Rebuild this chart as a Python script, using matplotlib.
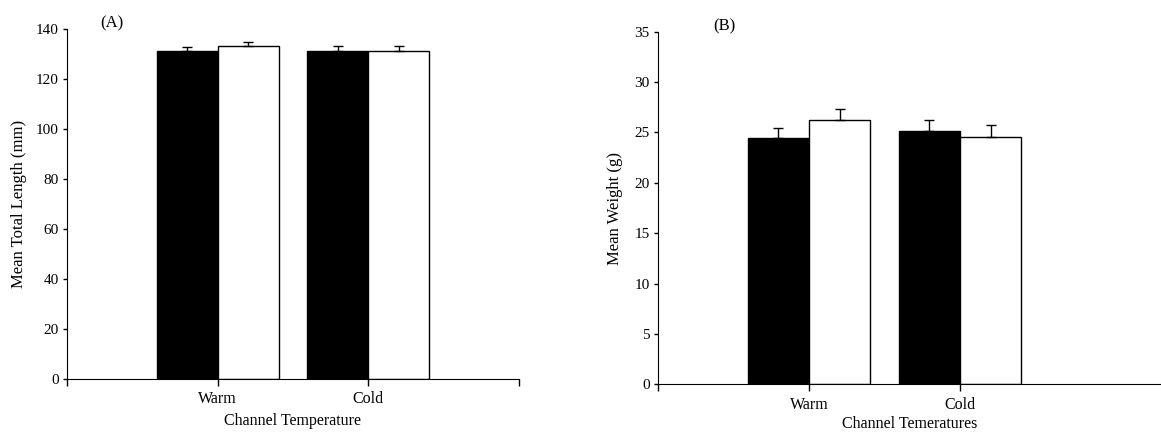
import numpy as np
import matplotlib
matplotlib.use('Agg')
import matplotlib.pyplot as plt

plt.rcParams['font.family'] = 'Liberation Serif'

# data
groups = ['Warm', 'Cold']
length_black = [131.1, 131.1]
length_white = [132.9, 131.1]
length_black_err = [1.6, 1.9]
length_white_err = [1.9, 2.0]

weight_black = [24.4, 25.1]
weight_white = [26.2, 24.5]
weight_black_err = [1.0, 1.1]
weight_white_err = [1.1, 1.2]

fig = plt.figure(figsize=(11.61, 4.32), dpi=100)
axA = fig.add_axes([0.0577, 0.1227, 0.3893, 0.8109])
axB = fig.add_axes([0.5667, 0.1104, 0.4333, 0.8162])

w = 0.405


def draw(ax, black, white, berr, werr, ymax, ystep, xmax, xticks,
         ylabel, xlabel, tag, tagx, xlpad, ylpad):
    x = np.arange(1, len(groups) + 1)
    ax.bar(x - w / 2, black, w, color='black', edgecolor='black', lw=1, zorder=2)
    ax.bar(x + w / 2, white, w, color='white', edgecolor='black', lw=1, zorder=2)
    ax.errorbar(x - w / 2, black, yerr=[np.zeros(len(black)), berr], fmt='none',
                ecolor='black', elinewidth=1, capsize=3.5, capthick=1, zorder=3)
    ax.errorbar(x + w / 2, white, yerr=[np.zeros(len(white)), werr], fmt='none',
                ecolor='black', elinewidth=1, capsize=3.5, capthick=1, zorder=3)
    ax.set_xlim(0, xmax)
    ax.set_ylim(0, ymax)
    ax.set_yticks(np.arange(0, ymax + 1, ystep))
    ax.set_xticks(xticks)
    ax.set_xticklabels([groups[int(t) - 1] if t in (1, 2) else '' for t in xticks])
    ax.spines['top'].set_visible(False)
    ax.spines['right'].set_visible(False)
    ax.tick_params(axis='y', direction='out', length=3, width=1, labelsize=11, pad=3)
    ax.tick_params(axis='x', direction='out', length=5, width=1, labelsize=11.5, pad=4)
    ax.set_ylabel(ylabel, fontsize=12, labelpad=ylpad)
    ax.set_xlabel(xlabel, fontsize=11.5, labelpad=xlpad)
    ax.text(tagx, 1.015, tag, transform=ax.transAxes,
            fontsize=12, ha='left', va='center')


draw(axA, length_black, length_white, length_black_err, length_white_err,
     140, 20, 3, [0, 1, 2, 3], 'Mean Total Length (mm)', 'Channel Temperature',
     '(A)', 0.073, 4, 6)
draw(axB, weight_black, weight_white, weight_black_err, weight_white_err,
     35, 5, 3.33, [0, 1, 2], 'Mean Weight (g)', 'Channel Temeratures',
     '(B)', 0.109, 2.5, 8)

fig.savefig('out.png', dpi=100)
